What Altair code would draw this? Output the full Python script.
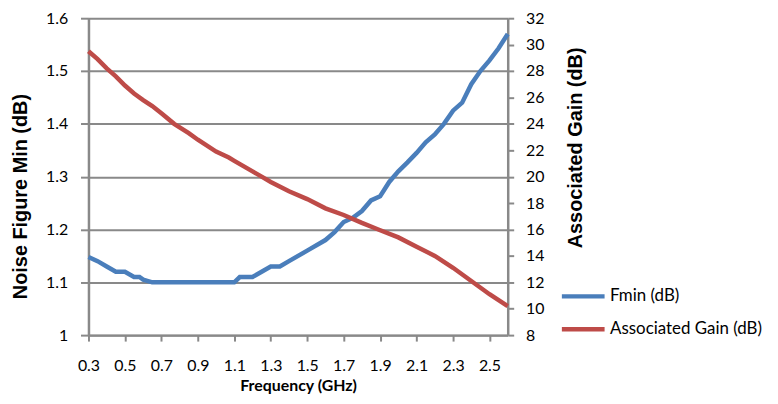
import altair as alt
import pandas as pd

# Fmin (dB) vs frequency (GHz)
fmin_freq = [0.30, 0.35, 0.40, 0.45, 0.50, 0.55, 0.58, 0.60, 0.65, 0.70, 0.80, 0.90, 1.00,
             1.08, 1.10, 1.13, 1.17, 1.20, 1.25, 1.30, 1.33, 1.35, 1.40, 1.50, 1.60, 1.65,
             1.70, 1.75, 1.80, 1.85, 1.90, 1.95, 2.00, 2.05, 2.10, 2.15, 2.20, 2.25, 2.30,
             2.35, 2.40, 2.45, 2.50, 2.55, 2.60]
fmin_vals = [1.148, 1.14, 1.13, 1.12, 1.12, 1.11, 1.11, 1.105, 1.10, 1.10, 1.10, 1.10, 1.10,
             1.10, 1.10, 1.11, 1.11, 1.11, 1.12, 1.13, 1.13, 1.13, 1.14, 1.16, 1.18, 1.195,
             1.214, 1.222, 1.235, 1.255, 1.263, 1.29, 1.31, 1.327, 1.345, 1.365, 1.38, 1.40, 1.425,
             1.44, 1.475, 1.50, 1.52, 1.543, 1.57]

# Associated Gain (dB) vs frequency (GHz)
gain_freq = [0.30, 0.35, 0.40, 0.45, 0.50, 0.55, 0.60, 0.65, 0.70, 0.77, 0.85, 0.90, 1.00,
             1.07, 1.10, 1.20, 1.25, 1.30, 1.40, 1.50, 1.60, 1.70, 1.80, 1.89, 2.00, 2.10,
             2.20, 2.30, 2.40, 2.50, 2.60]
gain_vals = [29.5, 28.9, 28.2, 27.6, 26.9, 26.3, 25.8, 25.35, 24.8, 24.0, 23.3, 22.8, 21.9,
             21.45, 21.2, 20.4, 20.0, 19.6, 18.9, 18.3, 17.6, 17.1, 16.5, 16.0, 15.4, 14.7,
             14.0, 13.1, 12.1, 11.1, 10.2]

x_ticks = [0.3, 0.5, 0.7, 0.9, 1.1, 1.3, 1.5, 1.7, 1.9, 2.1, 2.3, 2.5]
left_ticks = [1.0, 1.1, 1.2, 1.3, 1.4, 1.5, 1.6]
right_ticks = [8, 10, 12, 14, 16, 18, 20, 22, 24, 26, 28, 30, 32]
series_names = ["Fmin (dB)", "Associated Gain (dB)"]
series_colors = ["#4A7EBB", "#BE4B48"]

fmin_df = pd.DataFrame({"freq": fmin_freq, "val": fmin_vals})
gain_df = pd.DataFrame({"freq": gain_freq, "val": gain_vals})

GRID = "#898989"
LBL = "Lato"

x_enc = alt.X(
    "freq:Q",
    scale=alt.Scale(domain=[0.3, 2.6], nice=False, zero=False),
    axis=alt.Axis(
        values=x_ticks, format=".1f", title="Frequency (GHz)", grid=False,
        domainColor=GRID, domainWidth=2.5, tickColor=GRID, tickWidth=2, tickSize=6,
        labelFont=LBL, labelFontSize=16, labelColor="#000000", labelPadding=17,
        labelFlush=False,
        titleFont=LBL, titleFontWeight="bold", titleFontSize=16, titleColor="#000000",
        titleY=43, titleBaseline="top",
    ),
)
color_enc = alt.Color(
    "s:N",
    scale=alt.Scale(domain=series_names, range=series_colors),
    legend=alt.Legend(
        title=None, orient="none", legendX=474, legendY=256,
        symbolType="stroke", symbolStrokeWidth=4.5, symbolSize=1849,
        labelFont=LBL, labelFontSize=17, labelColor="#000000", labelOffset=3,
        labelLimit=300, rowPadding=-10,
    ),
)

fmin_line = alt.Chart(fmin_df).mark_line(strokeWidth=4.5).encode(
    x=x_enc,
    y=alt.Y(
        "val:Q",
        scale=alt.Scale(domain=[1.0, 1.6], nice=False, zero=False),
        axis=alt.Axis(
            values=left_ticks, format=".1~f", title="Noise Figure Min (dB)",
            grid=True, gridColor=GRID, gridWidth=2,
            domainColor=GRID, domainWidth=2.5, tickColor=GRID, tickWidth=2, tickSize=8,
            labelFont=LBL, labelFontSize=16, labelColor="#000000", labelPadding=13,
            titleFont="Liberation Sans", titleFontWeight="bold", titleFontSize=20,
            titleColor="#000000", titleAngle=270, titleX=-68, titleY=179,
            titleAlign="center", titleBaseline="middle",
        ),
    ),
    color=color_enc,
).transform_calculate(s="'Fmin (dB)'")

gain_line = alt.Chart(gain_df).mark_line(strokeWidth=4.5).encode(
    x=x_enc,
    y=alt.Y(
        "val:Q",
        scale=alt.Scale(domain=[8, 32], nice=False, zero=False),
        axis=alt.Axis(
            orient="right", values=right_ticks, title="Associated Gain (dB)",
            grid=False,
            domainColor=GRID, domainWidth=2.5, tickColor=GRID, tickWidth=2, tickSize=6,
            labelFont=LBL, labelFontSize=16, labelColor="#000000", labelPadding=12,
            titleFont="Liberation Sans", titleFontWeight="bold", titleFontSize=20,
            titleColor="#000000", titleAngle=270, titleX=68, titleY=130,
            titleAlign="center", titleBaseline="middle",
        ),
    ),
    color=color_enc,
).transform_calculate(s="'Associated Gain (dB)'")

chart = (
    alt.layer(fmin_line, gain_line)
    .resolve_scale(y="independent")
    .properties(
        width=422, height=319,
        padding={"left": 81, "top": 9, "right": 264, "bottom": 60},
        autosize=alt.AutoSizeParams(type="none"),
        background="#ffffff",
    )
    .configure_view(stroke=None)
)

chart.save("out.html", embed_options={"renderer": "svg", "actions": False})
